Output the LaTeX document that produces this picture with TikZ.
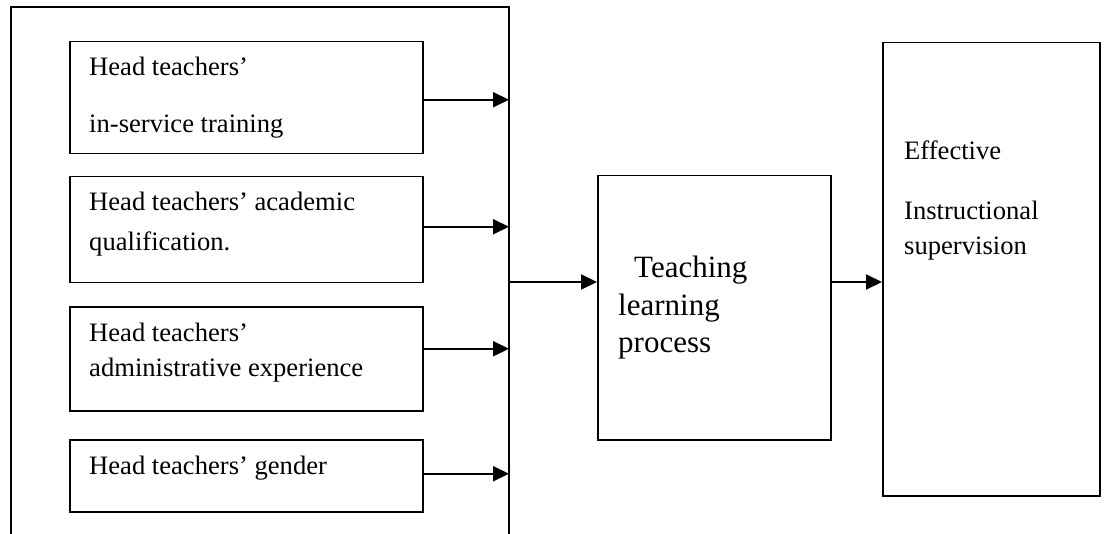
\documentclass[tikz,border=0pt]{standalone}
\usepackage{fontspec}
\setmainfont{Liberation Serif}
\usetikzlibrary{arrows.meta}

\tikzset{
  box/.style={draw, line width=1.5pt, inner sep=0pt, anchor=north west},
  lbl/.style={anchor=base west, inner sep=0pt, align=left, font=\fontsize{26.6}{32}\selectfont},
  flow/.style={line width=2pt, -{Triangle[length=16pt,width=15pt]}}
}

\begin{document}
\begin{tikzpicture}[x=1pt,y=1pt]
				\useasboundingbox (0,0) rectangle (1107,-534);
				% open frame round the four factors
				\coordinate (outerNE) at (509,-7);
				\draw[line width=1.5pt] (11,-534) -- (11,-7) -- (outerNE) -- (509,-534);
				\coordinate (join) at (509,-282);
				% factor boxes
				\node[box, minimum width=353pt, minimum height=112pt] (training) at (69,-41) {};
				\node[box, minimum width=353pt, minimum height=106pt] (qualif) at (69,-176) {};
				\node[box, minimum width=353pt, minimum height=104pt] (admin) at (69,-306) {};
				\node[box, minimum width=353pt, minimum height=72pt] (gender) at (69,-439) {};
				% base of a label = base of its last line
				\node[lbl] (trainingtxt) at (89,-133) {Head teachers’\\[25pt]in-service training};
				\node[lbl] (qualiftxt) at (89,-251) {Head teachers’ academic\\[8pt]qualification.};
				\node[lbl] (admintxt) at (89,-376) {Head teachers’\\[3pt]administrative experience};
				\node[lbl] (gendertxt) at (89,-474) {Head teachers’ gender};
				% process and outcome
				\node[box, minimum width=233pt, minimum height=264pt] (process) at (597,-175) {};
				\node[box, minimum width=217pt, minimum height=453pt] (effective) at (882,-42) {};
				\node[lbl, font=\fontsize{31}{37}\selectfont] (processtxt) at (618,-352) {\hspace{16pt}Teaching\\learning\\process};
				\node[lbl] (effectivetxt) at (904,-255) {Effective\\[28pt]Instructional\\[3pt]supervision};
				% arrows
				\draw[flow] ([yshift=-2pt]training.east) -- ([yshift=-2pt]training.east -| outerNE);
				\draw[flow] ([yshift=3pt]qualif.east) -- ([yshift=3pt]qualif.east -| outerNE);
				\draw[flow] ([yshift=10pt]admin.east) -- ([yshift=10pt]admin.east -| outerNE);
				\draw[flow] ([yshift=2pt]gender.east) -- ([yshift=2pt]gender.east -| outerNE);
				\draw[flow] (join) -- (join -| process.west);
				\draw[flow] (join -| process.east) -- (join -| effective.west);
\end{tikzpicture}
\end{document}
